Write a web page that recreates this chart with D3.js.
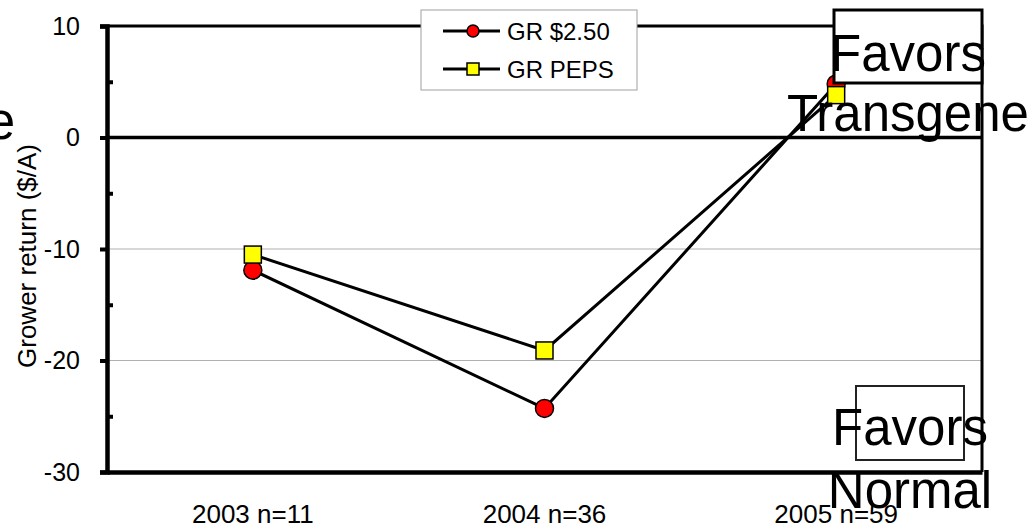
<!DOCTYPE html>
<html>
<head>
<meta charset="utf-8">
<script src="https://cdn.jsdelivr.net/npm/d3@7"></script>
<style>
  body { margin: 0; background: #fff; }
  svg { font-family: "Liberation Sans", Arial, sans-serif; }
  .tick text { fill: #000; }
  .y.axis .tick text { font-size: 25px; }
  .x.axis .tick text { font-size: 26px; }
</style>
</head>
<body>
<div id="chart"></div>
<script>
var years = ["2003 n=11", "2004 n=36", "2005 n=59"];
var gr250 = [-11.9, -24.3, 4.8];
var grPeps = [-10.5, -19.1, 3.8];
var majorTicks = [-30, -20, -10, 0, 10];
var minorTicks = [-25, -15, -5, 5];
var gridTicks = [-10, -20];

function init() {
    var W = 1035, H = 530;
    var left = 107, right = 982, top = 26, bottom = 472;

    var x = d3.scaleBand().domain(years).range([left, right]),
        y = d3.scaleLinear().domain([-30, 10]).range([bottom, top]);

    var svg = d3.select("#chart").append("svg")
        .attr("width", W)
        .attr("height", H);

    // grid lines
    svg.selectAll("line.grid")
       .data(gridTicks)
       .enter().append("line")
       .attr("class", "grid")
       .attr("x1", left).attr("x2", right)
       .attr("y1", function(d) { return y(d); })
       .attr("y2", function(d) { return y(d); })
       .attr("stroke", "#b0b0b0")
       .attr("stroke-width", 1);

    // zero line
    svg.append("line")
       .attr("x1", left).attr("x2", right)
       .attr("y1", y(0)).attr("y2", y(0))
       .attr("stroke", "#000")
       .attr("stroke-width", 3.5);

    // frame top + right
    svg.append("path")
       .attr("d", "M" + left + "," + top + "H" + right + "V" + bottom)
       .attr("fill", "none")
       .attr("stroke", "#000")
       .attr("stroke-width", 3);

    // y axis
    var yAxis = d3.axisLeft(y).tickValues(majorTicks).tickSize(7).tickPadding(20)
        .tickFormat(function(d) { return String(d); });
    var gy = svg.append("g")
       .attr("class", "y axis")
       .attr("transform", "translate(" + left + ",0)")
       .call(yAxis);
    gy.select(".domain").attr("stroke-width", 4.5);
    gy.selectAll(".tick line").attr("stroke-width", 4);

    var gyMinor = svg.append("g")
       .attr("transform", "translate(" + left + ",0)")
       .call(d3.axisRight(y).tickValues(minorTicks).tickSize(6).tickFormat(""));
    gyMinor.select(".domain").remove();
    gyMinor.selectAll(".tick line").attr("stroke-width", 4);

    // x axis
    var gx = svg.append("g")
       .attr("class", "x axis")
       .attr("transform", "translate(0," + bottom + ")")
       .call(d3.axisBottom(x).tickSize(0).tickPadding(33));
    gx.select(".domain").attr("stroke-width", 4.5);

    // y title
    svg.append("text")
       .attr("transform", "translate(36,256) rotate(-90)")
       .attr("text-anchor", "middle")
       .attr("font-size", 26)
       .text("Grower return ($/A)");

    // series
    var line = d3.line()
        .x(function(d, i) { return x(years[i]) + x.bandwidth() / 2; })
        .y(function(d) { return y(d); });

    [gr250, grPeps].forEach(function(s) {
        svg.append("path")
           .datum(s)
           .attr("d", line)
           .attr("fill", "none")
           .attr("stroke", "#000")
           .attr("stroke-width", 3);
    });

    svg.selectAll("circle.gr250")
       .data(gr250)
       .enter().append("circle")
       .attr("class", "gr250")
       .attr("cx", function(d, i) { return x(years[i]) + x.bandwidth() / 2; })
       .attr("cy", function(d) { return y(d); })
       .attr("r", 9)
       .attr("fill", "#ff0000")
       .attr("stroke", "#000")
       .attr("stroke-width", 1.5);

    svg.selectAll("rect.peps")
       .data(grPeps)
       .enter().append("rect")
       .attr("class", "peps")
       .attr("x", function(d, i) { return x(years[i]) + x.bandwidth() / 2 - 8.5; })
       .attr("y", function(d) { return y(d) - 8.5; })
       .attr("width", 17).attr("height", 17)
       .attr("fill", "#ffff00")
       .attr("stroke", "#000")
       .attr("stroke-width", 1.5);

    // legend
    var lg = svg.append("g");
    lg.append("rect")
      .attr("x", 421).attr("y", 10)
      .attr("width", 216).attr("height", 80)
      .attr("fill", "#fff")
      .attr("stroke", "#a0a0a0")
      .attr("stroke-width", 1);
    var rows = [{label: "GR $2.50", y: 31, type: "circle"}, {label: "GR PEPS", y: 69, type: "rect"}];
    rows.forEach(function(r) {
        lg.append("line")
          .attr("x1", 443).attr("x2", 500)
          .attr("y1", r.y).attr("y2", r.y)
          .attr("stroke", "#000").attr("stroke-width", 3);
        if (r.type === "circle") {
            lg.append("circle")
              .attr("cx", 473).attr("cy", r.y).attr("r", 6)
              .attr("fill", "#ff0000").attr("stroke", "#000").attr("stroke-width", 1.5);
        } else {
            lg.append("rect")
              .attr("x", 467).attr("y", r.y - 6).attr("width", 12).attr("height", 12)
              .attr("fill", "#ffff00").attr("stroke", "#000").attr("stroke-width", 1.5);
        }
        lg.append("text")
          .attr("x", 507).attr("y", r.y + 8.5)
          .attr("font-size", 24)
          .text(r.label);
    });

    // annotation boxes
    svg.append("rect")
       .attr("x", 834).attr("y", 10)
       .attr("width", 148).attr("height", 73)
       .attr("fill", "#fff")
       .attr("stroke", "#000")
       .attr("stroke-width", 3);
    svg.append("rect")
       .attr("x", 856).attr("y", 386)
       .attr("width", 108).attr("height", 74)
       .attr("fill", "none")
       .attr("stroke", "#222")
       .attr("stroke-width", 2);

    var big = [
        {t: "Favors", x: 908, y: 71},
        {t: "Transgene", x: 908, y: 131},
        {t: "Favors", x: 910, y: 445},
        {t: "Normal", x: 910, y: 508}
    ];
    svg.selectAll("text.big")
       .data(big)
       .enter().append("text")
       .attr("class", "big")
       .attr("x", function(d) { return d.x; })
       .attr("y", function(d) { return d.y; })
       .attr("text-anchor", "middle")
       .attr("font-size", 51)
       .text(function(d) { return d.t; });

    // clipped large label at left edge
    svg.append("text")
       .attr("x", 15).attr("y", 139)
       .attr("text-anchor", "end")
       .attr("font-size", 51)
       .text("Transgene");
}
init();
</script>
</body>
</html>
